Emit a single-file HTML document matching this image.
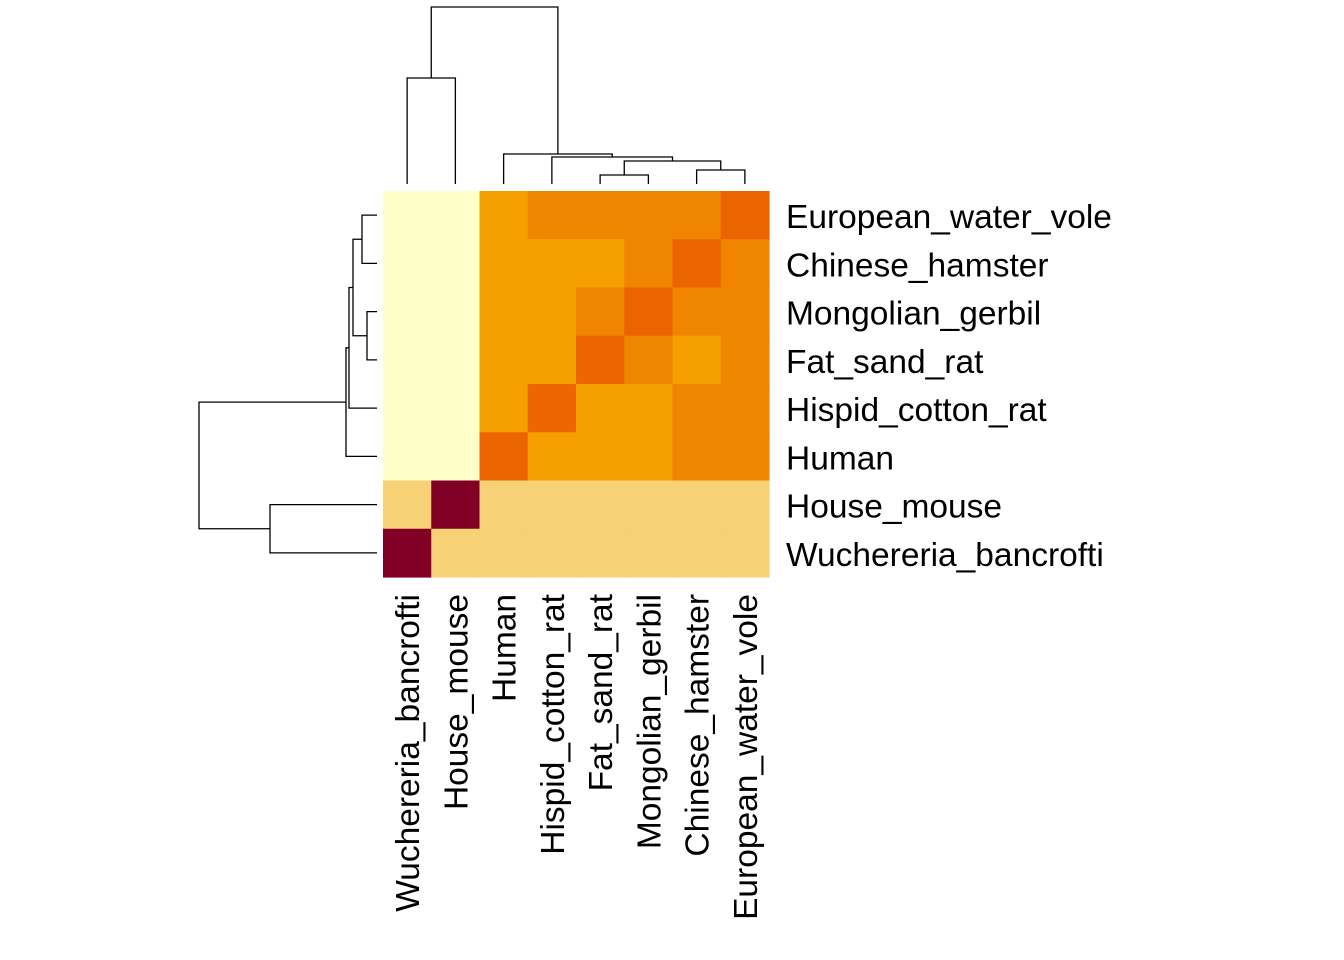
<!DOCTYPE html>
<html><head><meta charset="utf-8"><style>body{margin:0;background:#fff}svg{display:block}</style></head>
<body>
<svg id="chart" width="1344" height="960" xmlns="http://www.w3.org/2000/svg" font-family="Liberation Sans, Arial, sans-serif">
<g id="cells"></g><g id="dendro" stroke="#000" stroke-width="1.3" fill="none"></g><g id="labels" font-size="33.5" fill="#000"></g>
</svg>
<script>
const colNames = ["Wuchereria_bancrofti","House_mouse","Human","Hispid_cotton_rat","Fat_sand_rat","Mongolian_gerbil","Chinese_hamster","European_water_vole"];
const rowNames = ["European_water_vole","Chinese_hamster","Mongolian_gerbil","Fat_sand_rat","Hispid_cotton_rat","Human","House_mouse","Wuchereria_bancrofti"];
const values = [
 [0,0,2,3,3,3,3,4],
 [0,0,2,2,2,3,4,3],
 [0,0,2,2,3,4,3,3],
 [0,0,2,2,4,3,2,3],
 [0,0,2,4,2,2,3,3],
 [0,0,4,2,2,2,3,3],
 [1,5,1,1,1,1,1,1],
 [5,1,1,1,1,1,1,1]
];
const palette = ["#FFFFC8","#F6D175","#F5A000","#F08500","#EB6400","#800026"];
const colMerges = [[0,1,78],[4,5,175],[6,7,170],["fm","ce",161],[3,"fmce",157],[2,"h",154],["wh","r",7]];
const rowMerges = [[0,1,362],[2,3,367],["ec","mf",353],[4,"a",349],[5,"b",346],[6,7,270],["top","bot",199]];

const X0=383, Y0=191, CW=386/8, CH=386/8;
const ns="http://www.w3.org/2000/svg";
const cells=document.getElementById('cells'), dg=document.getElementById('dendro'), lb=document.getElementById('labels');
function mk(tag,attrs,parent){const e=document.createElementNS(ns,tag);for(const k in attrs)e.setAttribute(k,attrs[k]);parent.appendChild(e);return e;}
const cx=i=>X0+CW*(i+0.5), cy=i=>Y0+CH*(i+0.5);
values.forEach((row,r)=>row.forEach((v,c)=>{
  const e=mk('rect',{x:X0+c*CW,y:Y0+r*CH,width:CW+0.6,height:CH+0.6,fill:palette[v]},cells);
  
  
}));
const LEAFY=184;
function colTree(){
  const node={};
  for(let i=0;i<8;i++)node[i]={x:cx(i),y:LEAFY};
  const m=colMerges;
  const join=(a,b,h)=>{const p=mk('path',{d:`M${a.x},${a.y}V${h}H${b.x}V${b.y}`},dg);return {x:(a.x+b.x)/2,y:h};};
  const wh=join(node[0],node[1],m[0][2]);
  const fm=join(node[4],node[5],m[1][2]);
  const ce=join(node[6],node[7],m[2][2]);
  const fmce=join(fm,ce,m[3][2]);
  const a=join(node[3],fmce,m[4][2]);
  const r=join(node[2],a,m[5][2]);
  join(wh,r,m[6][2]);
}
colTree();
const LEAFX=377;
function rowTree(){
  const node={};for(let i=0;i<8;i++)node[i]={x:LEAFX,y:cy(i)};
  const m=rowMerges;
  const join=(a,b,h)=>{const p=mk('path',{d:`M${a.x},${a.y}H${h}V${b.y}H${b.x}`},dg);return {x:h,y:(a.y+b.y)/2};};
  const ec=join(node[0],node[1],m[0][2]);
  const mf=join(node[2],node[3],m[1][2]);
  const a=join(ec,mf,m[2][2]);
  const b=join(a,node[4],m[3][2]);
  const top=join(b,node[5],m[4][2]);
  const bot=join(node[6],node[7],m[5][2]);
  join(top,bot,m[6][2]);
}
rowTree();
rowNames.forEach((n,i)=>{
  const t=mk('text',{x:786,y:cy(i)+13},lb);t.textContent=n;
  
  
});
colNames.forEach((n,i)=>{
  const x=cx(i)+12,y=594;
  const t=mk('text',{x:x,y:y,transform:`rotate(-90 ${x} ${y})`,'text-anchor':'end'},lb);t.textContent=n;
  
  
});
</script>
</body></html>
